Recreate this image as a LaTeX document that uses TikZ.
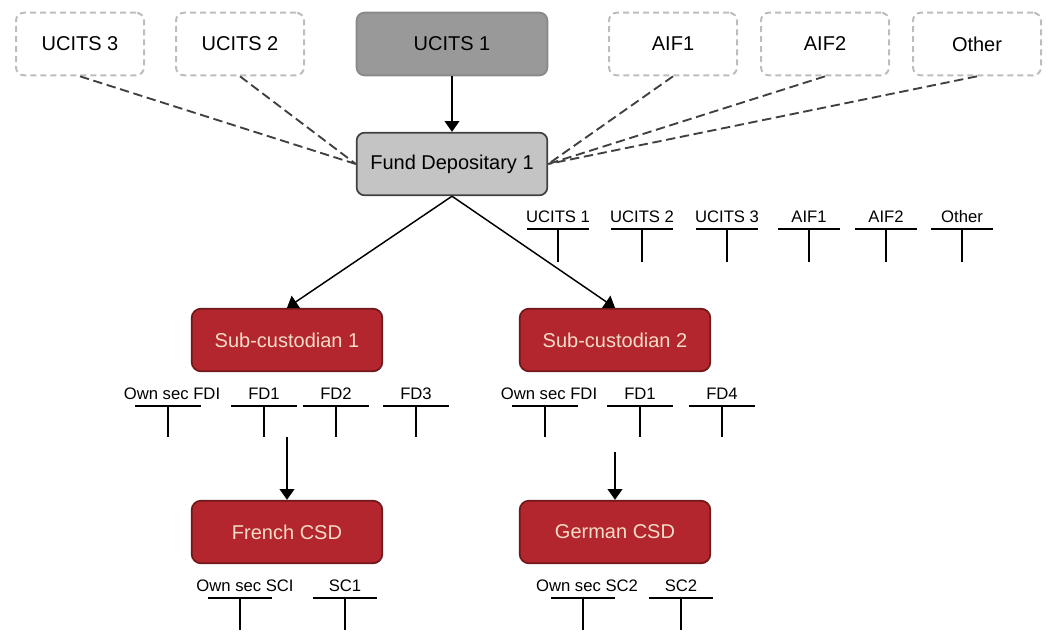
\documentclass[tikz,border=0pt]{standalone}
\usepackage{fontspec}
\setmainfont{Liberation Sans}
\usetikzlibrary{positioning, arrows.meta}

\definecolor{fundgrey}{HTML}{999999}
\definecolor{depgrey}{HTML}{C4C4C4}
\definecolor{dashgrey}{HTML}{BDBDBD}
\definecolor{custred}{HTML}{B3262D}
\definecolor{custedge}{HTML}{6E1A1C}
\definecolor{custtext}{HTML}{F8DCC8}

\begin{document}
\begin{tikzpicture}[x=0.75pt,y=-0.75pt,
    fund/.style={draw=dashgrey, dash pattern=on 4.5pt off 3pt, line width=1.5pt,
      rounded corners=6pt, minimum width=96pt, minimum height=47pt,
      font=\fontsize{15}{18}\selectfont},
    mainfund/.style={fund, draw=fundgrey!90!black, solid, fill=fundgrey, minimum width=143pt},
    depo/.style={draw=black!75, line width=1.3pt, fill=depgrey, rounded corners=6pt,
      minimum width=143pt, minimum height=47pt, font=\fontsize{15}{18}\selectfont},
    cust/.style={draw=custedge, line width=1.3pt, fill=custred, text=custtext,
      rounded corners=7pt, minimum width=143pt, minimum height=47pt,
      font=\fontsize{15}{18}\selectfont},
    link/.style={-{Triangle[width=11pt,length=8pt]}, line width=1.1pt},
    dashlink/.style={draw=black!75, line width=1.4pt, dash pattern=on 7pt off 3.5pt},
    acct/.style={font=\fontsize{12.5}{14}\selectfont, inner sep=1pt},
    acctline/.style={line width=1pt}]
  \useasboundingbox (0,0) rectangle (1049,637);

  % funds
  \node[fund] (ucits3) at (80,44) {UCITS 3};
  \node[fund] (ucits2) at (240,44) {UCITS 2};
  \node[mainfund] (ucits1) at (452,44) {UCITS 1};
  \node[fund] (aif1) at (673,44) {AIF1};
  \node[fund] (aif2) at (825,44) {AIF2};
  \node[fund] (other) at (977,44) {Other};

  % depositary and custodians
  \node[depo] (fd) at (452,164) {Fund Depositary 1};
  \node[cust] (sub1) at (287,340) {Sub-custodian 1};
  \node[cust] (sub2) at (615,340) {Sub-custodian 2};
  \node[cust] (french) at (287,532) {French CSD};
  \node[cust] (german) at (615,532) {German CSD};

  \coordinate (frtop) at (287,437);
  \coordinate (detop) at (615,452);

  \path[dashlink]
    (ucits3.south) edge (fd.west)
    (ucits2.south) edge (fd.west)
    (aif1.south) edge (fd.east)
    (aif2.south) edge (fd.east)
    (other.south) edge (fd.east);

  \path[link]
    (ucits1) edge (fd)
    (fd.south) edge (sub1.north)
    (fd.south) edge (sub2.north)
    (frtop) edge (french)
    (detop) edge (german);

  % accounts
  \foreach \x/\t/\s [count=\i] in {558/UCITS 1/0, 642/UCITS 2/0, 727/UCITS 3/0,
      809/AIF1/0, 886/AIF2/0, 962/Other/0} {
    \node[acct] (fdacc\i) at ({\x+\s},217) {\t};
    \draw[acctline] ({\x-31},229) -- ({\x+31},229) (\x,229) -- (\x,262);
  }
  \foreach \x/\t/\s [count=\i] in {168/Own sec FDI/4, 264/FD1/0, 336/FD2/0, 416/FD3/0} {
    \node[acct] (subacca\i) at ({\x+\s},394) {\t};
    \draw[acctline] ({\x-33},406) -- ({\x+33},406) (\x,406) -- (\x,437);
  }
  \foreach \x/\t/\s [count=\i] in {545/Own sec FDI/4, 640/FD1/0, 722/FD4/0} {
    \node[acct] (subaccb\i) at ({\x+\s},394) {\t};
    \draw[acctline] ({\x-33},406) -- ({\x+33},406) (\x,406) -- (\x,437);
  }
  \foreach \x/\t/\s [count=\i] in {240/Own sec SCI/5, 345/SC1/0} {
    \node[acct] (fracc\i) at ({\x+\s},586) {\t};
    \draw[acctline] ({\x-32},598) -- ({\x+32},598) (\x,598) -- (\x,630);
  }
  \foreach \x/\t/\s [count=\i] in {583/Own sec SC2/4, 681/SC2/0} {
    \node[acct] (deacc\i) at ({\x+\s},586) {\t};
    \draw[acctline] ({\x-32},598) -- ({\x+32},598) (\x,598) -- (\x,630);
  }
\end{tikzpicture}
\end{document}
